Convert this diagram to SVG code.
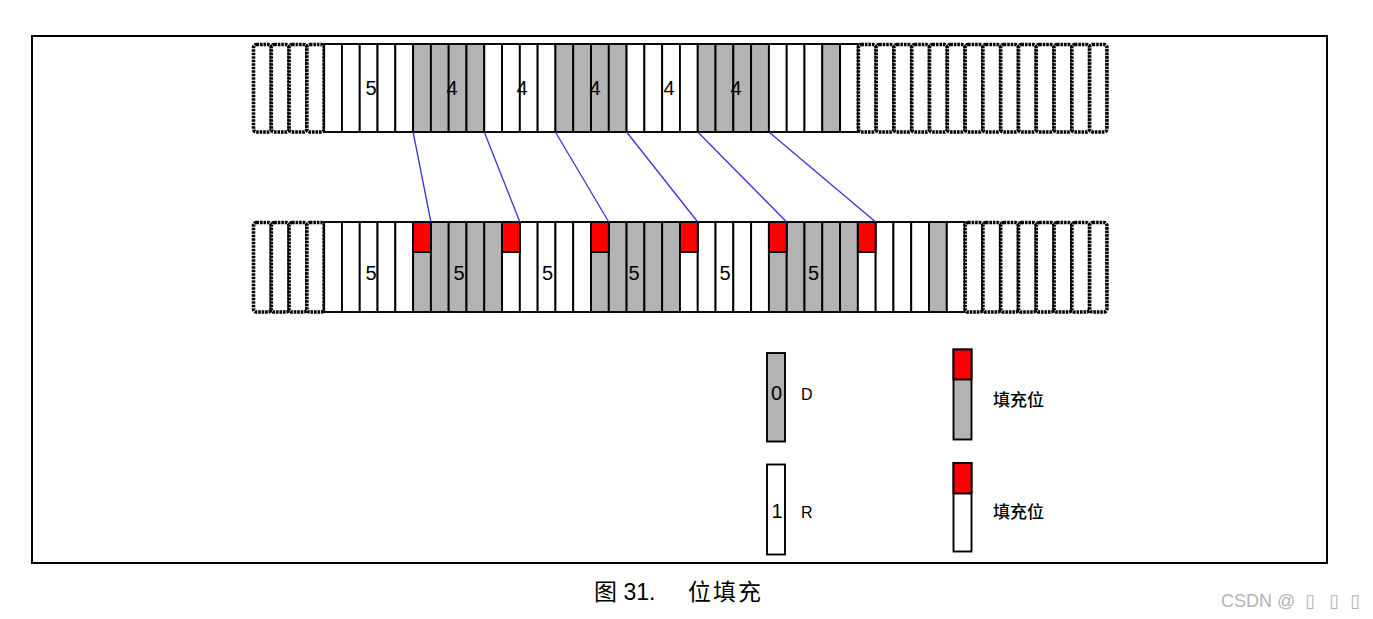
<svg xmlns="http://www.w3.org/2000/svg" width="1373" height="619" viewBox="0 0 1373 619">
<style>
.w{fill:#fff;stroke:#000;stroke-width:1.9}
.g{fill:#b3b3b3;stroke:#000;stroke-width:1.9}
.r{fill:#ff0000;stroke:#000;stroke-width:1.9}
.d{fill:#fff;stroke:#000;stroke-width:3.6;stroke-dasharray:2.6 0.9}
.n{font-family:"Liberation Sans",Arial,sans-serif;font-size:20px;fill:#000;text-anchor:middle}
.l{font-family:"Liberation Sans",Arial,sans-serif;font-size:16px;fill:#000}
.c{font-family:"Noto Sans CJK SC","Liberation Sans",sans-serif;font-size:17px;font-weight:500;fill:#000}
.cap{font-family:"Liberation Sans","Noto Sans CJK SC",sans-serif;font-size:23px;fill:#000}
.conn line{stroke:#3535d8;stroke-width:1.3}
</style>
<rect x="0" y="0" width="1373" height="619" fill="#fff"/>
<rect id="frame" x="32" y="36" width="1295" height="527" fill="none" stroke="#000" stroke-width="2"/>

<!-- TOP ROW -->
<g id="top-lead">
<rect class="d" x="253.5" y="44.5" width="17.79" height="87.5" rx="3"/>
<rect class="d" x="271.29" y="44.5" width="17.79" height="87.5" rx="3"/>
<rect class="d" x="289.08" y="44.5" width="17.79" height="87.5" rx="3"/>
<rect class="d" x="306.87" y="44.5" width="17.29" height="87.5" rx="3"/>
</g>
<g id="top-bits">
<rect class="w" x="324.16" y="44" width="17.79" height="88"/>
<rect class="w" x="341.95" y="44" width="17.79" height="88"/>
<rect class="w" x="359.74" y="44" width="17.79" height="88"/>
<rect class="w" x="377.53" y="44" width="17.79" height="88"/>
<rect class="w" x="395.32" y="44" width="17.79" height="88"/>
<rect class="g" x="413.11" y="44" width="17.79" height="88"/>
<rect class="g" x="430.90" y="44" width="17.79" height="88"/>
<rect class="g" x="448.69" y="44" width="17.79" height="88"/>
<rect class="g" x="466.48" y="44" width="17.79" height="88"/>
<rect class="w" x="484.27" y="44" width="17.79" height="88"/>
<rect class="w" x="502.06" y="44" width="17.79" height="88"/>
<rect class="w" x="519.85" y="44" width="17.79" height="88"/>
<rect class="w" x="537.64" y="44" width="17.79" height="88"/>
<rect class="g" x="555.43" y="44" width="17.79" height="88"/>
<rect class="g" x="573.22" y="44" width="17.79" height="88"/>
<rect class="g" x="591.01" y="44" width="17.79" height="88"/>
<rect class="g" x="608.80" y="44" width="17.79" height="88"/>
<rect class="w" x="626.59" y="44" width="17.79" height="88"/>
<rect class="w" x="644.38" y="44" width="17.79" height="88"/>
<rect class="w" x="662.17" y="44" width="17.79" height="88"/>
<rect class="w" x="679.96" y="44" width="17.79" height="88"/>
<rect class="g" x="697.75" y="44" width="17.79" height="88"/>
<rect class="g" x="715.54" y="44" width="17.79" height="88"/>
<rect class="g" x="733.33" y="44" width="17.79" height="88"/>
<rect class="g" x="751.12" y="44" width="17.79" height="88"/>
<rect class="w" x="768.91" y="44" width="17.79" height="88"/>
<rect class="w" x="786.70" y="44" width="17.79" height="88"/>
<rect class="w" x="804.49" y="44" width="17.79" height="88"/>
<rect class="g" x="822.28" y="44" width="17.79" height="88"/>
<rect class="w" x="840.07" y="44" width="17.79" height="88"/>
<text class="n" x="371" y="95">5</text>
<text class="n" x="452" y="95">4</text>
<text class="n" x="522" y="95">4</text>
<text class="n" x="595" y="95">4</text>
<text class="n" x="669" y="95">4</text>
<text class="n" x="736" y="95">4</text>
</g>
<g id="top-tail">
<rect class="d" x="858.36" y="44.5" width="17.79" height="87.5" rx="3"/>
<rect class="d" x="876.15" y="44.5" width="17.79" height="87.5" rx="3"/>
<rect class="d" x="893.94" y="44.5" width="17.79" height="87.5" rx="3"/>
<rect class="d" x="911.73" y="44.5" width="17.79" height="87.5" rx="3"/>
<rect class="d" x="929.52" y="44.5" width="17.79" height="87.5" rx="3"/>
<rect class="d" x="947.31" y="44.5" width="17.79" height="87.5" rx="3"/>
<rect class="d" x="965.10" y="44.5" width="17.79" height="87.5" rx="3"/>
<rect class="d" x="982.89" y="44.5" width="17.79" height="87.5" rx="3"/>
<rect class="d" x="1000.68" y="44.5" width="17.79" height="87.5" rx="3"/>
<rect class="d" x="1018.47" y="44.5" width="17.79" height="87.5" rx="3"/>
<rect class="d" x="1036.26" y="44.5" width="17.79" height="87.5" rx="3"/>
<rect class="d" x="1054.05" y="44.5" width="17.79" height="87.5" rx="3"/>
<rect class="d" x="1071.84" y="44.5" width="17.79" height="87.5" rx="3"/>
<rect class="d" x="1089.63" y="44.5" width="17.29" height="87.5" rx="3"/>
</g>

<!-- BOTTOM ROW -->
<g id="bottom-lead">
<rect class="d" x="253.5" y="222.5" width="17.79" height="89.5" rx="3"/>
<rect class="d" x="271.29" y="222.5" width="17.79" height="89.5" rx="3"/>
<rect class="d" x="289.08" y="222.5" width="17.79" height="89.5" rx="3"/>
<rect class="d" x="306.87" y="222.5" width="17.29" height="89.5" rx="3"/>
</g>
<g id="bottom-bits">
<rect class="w" x="324.16" y="222" width="17.79" height="90"/>
<rect class="w" x="341.95" y="222" width="17.79" height="90"/>
<rect class="w" x="359.74" y="222" width="17.79" height="90"/>
<rect class="w" x="377.53" y="222" width="17.79" height="90"/>
<rect class="w" x="395.32" y="222" width="17.79" height="90"/>
<rect class="g" x="413.11" y="222" width="17.79" height="90"/>
<rect class="g" x="430.90" y="222" width="17.79" height="90"/>
<rect class="g" x="448.69" y="222" width="17.79" height="90"/>
<rect class="g" x="466.48" y="222" width="17.79" height="90"/>
<rect class="g" x="484.27" y="222" width="17.79" height="90"/>
<rect class="w" x="502.06" y="222" width="17.79" height="90"/>
<rect class="w" x="519.85" y="222" width="17.79" height="90"/>
<rect class="w" x="537.64" y="222" width="17.79" height="90"/>
<rect class="w" x="555.43" y="222" width="17.79" height="90"/>
<rect class="w" x="573.22" y="222" width="17.79" height="90"/>
<rect class="g" x="591.01" y="222" width="17.79" height="90"/>
<rect class="g" x="608.80" y="222" width="17.79" height="90"/>
<rect class="g" x="626.59" y="222" width="17.79" height="90"/>
<rect class="g" x="644.38" y="222" width="17.79" height="90"/>
<rect class="g" x="662.17" y="222" width="17.79" height="90"/>
<rect class="w" x="679.96" y="222" width="17.79" height="90"/>
<rect class="w" x="697.75" y="222" width="17.79" height="90"/>
<rect class="w" x="715.54" y="222" width="17.79" height="90"/>
<rect class="w" x="733.33" y="222" width="17.79" height="90"/>
<rect class="w" x="751.12" y="222" width="17.79" height="90"/>
<rect class="g" x="768.91" y="222" width="17.79" height="90"/>
<rect class="g" x="786.70" y="222" width="17.79" height="90"/>
<rect class="g" x="804.49" y="222" width="17.79" height="90"/>
<rect class="g" x="822.28" y="222" width="17.79" height="90"/>
<rect class="g" x="840.07" y="222" width="17.79" height="90"/>
<rect class="w" x="857.86" y="222" width="17.79" height="90"/>
<rect class="w" x="875.65" y="222" width="17.79" height="90"/>
<rect class="w" x="893.44" y="222" width="17.79" height="90"/>
<rect class="w" x="911.23" y="222" width="17.79" height="90"/>
<rect class="g" x="929.02" y="222" width="17.79" height="90"/>
<rect class="w" x="946.81" y="222" width="17.79" height="90"/>
<rect class="r" x="413.11" y="222" width="17.79" height="30"/>
<rect class="r" x="502.06" y="222" width="17.79" height="30"/>
<rect class="r" x="591.01" y="222" width="17.79" height="30"/>
<rect class="r" x="679.96" y="222" width="17.79" height="30"/>
<rect class="r" x="768.91" y="222" width="17.79" height="30"/>
<rect class="r" x="857.86" y="222" width="17.79" height="30"/>
<text class="n" x="371" y="280">5</text>
<text class="n" x="459" y="280">5</text>
<text class="n" x="547.5" y="280">5</text>
<text class="n" x="634" y="280">5</text>
<text class="n" x="725" y="280">5</text>
<text class="n" x="813.5" y="280">5</text>
</g>
<g id="bottom-tail">
<rect class="d" x="965.10" y="222.5" width="17.79" height="89.5" rx="3"/>
<rect class="d" x="982.89" y="222.5" width="17.79" height="89.5" rx="3"/>
<rect class="d" x="1000.68" y="222.5" width="17.79" height="89.5" rx="3"/>
<rect class="d" x="1018.47" y="222.5" width="17.79" height="89.5" rx="3"/>
<rect class="d" x="1036.26" y="222.5" width="17.79" height="89.5" rx="3"/>
<rect class="d" x="1054.05" y="222.5" width="17.79" height="89.5" rx="3"/>
<rect class="d" x="1071.84" y="222.5" width="17.79" height="89.5" rx="3"/>
<rect class="d" x="1089.63" y="222.5" width="17.29" height="89.5" rx="3"/>
</g>

<!-- CONNECTORS -->
<g id="connectors" class="conn">
<line x1="413.11" y1="132" x2="430.90" y2="222"/>
<line x1="484.27" y1="132" x2="519.85" y2="222"/>
<line x1="555.43" y1="132" x2="608.80" y2="222"/>
<line x1="626.59" y1="132" x2="697.75" y2="222"/>
<line x1="697.75" y1="132" x2="786.70" y2="222"/>
<line x1="768.91" y1="132" x2="875.65" y2="222"/>
</g>

<!-- LEGEND -->
<g id="legend-d">
<rect class="g" x="767" y="353" width="18" height="88.5"/>
<text class="n" x="776.5" y="400">0</text>
<text class="l" x="801" y="400">D</text>
</g>
<g id="legend-r">
<rect class="w" x="767" y="464.5" width="18" height="90"/>
<text class="n" x="777" y="518">1</text>
<text class="l" x="801" y="518">R</text>
</g>
<g id="legend-stuff-d">
<rect class="g" x="953.5" y="349.5" width="18" height="90"/>
<rect class="r" x="953.5" y="349.5" width="18" height="30"/>
<text class="c" x="993" y="406">填充位</text>
</g>
<g id="legend-stuff-r">
<rect class="w" x="953.5" y="463" width="18" height="88.5"/>
<rect class="r" x="953.5" y="463" width="18" height="30.5"/>
<text class="c" x="993" y="518">填充位</text>
</g>

<!-- CAPTION -->
<text id="caption" class="cap" y="600"><tspan x="594">图 31.</tspan><tspan x="688" letter-spacing="2">位填充</tspan></text>
<text id="watermark" y="607" font-family="'Liberation Sans','DejaVu Sans',sans-serif" font-size="18" fill="#b4b4b4"><tspan x="1221">CSDN @</tspan><tspan x="1305">▯</tspan><tspan x="1329">▯</tspan><tspan x="1350">▯</tspan></text>
</svg>
